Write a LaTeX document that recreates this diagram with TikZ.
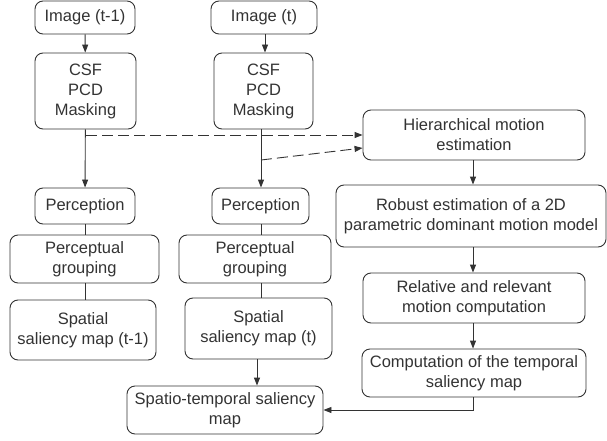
\documentclass[tikz,border=0pt]{standalone}
\usepackage{fontspec}
\setmainfont{Liberation Sans}
\usetikzlibrary{arrows.meta,calc}
\definecolor{ln}{HTML}{333333}
\tikzset{
  x=1pt, y=-1pt,
  box/.style={draw=ln, line width=0.9pt, rounded corners=8pt, align=center, inner sep=0pt,
    text=ln, font=\fontsize{16.5}{20}\selectfont},
  arr/.style={draw=ln, line width=0.9pt, -{Triangle[length=8pt,width=6pt]}},
  plain/.style={draw=ln, line width=0.9pt},
  dsh/.style={arr, dash pattern=on 11pt off 5pt},
}
\begin{document}
\begin{tikzpicture}
\useasboundingbox (0,0) rectangle (607,441);
\node[box, minimum width=100pt, minimum height=33pt] (img1) at (85,17.5) {Image (t-1)};
\node[box, minimum width=106pt, minimum height=33pt] (img2) at (264,17.5) {Image (t)};
\node[box, minimum width=101pt, minimum height=76pt] (csf1) at (85.5,91) {CSF\\PCD\\Masking};
\node[box, minimum width=99pt, minimum height=76pt] (csf2) at (263.5,91) {CSF\\PCD\\Masking};
\node[box, minimum width=100pt, minimum height=36pt] (per1) at (85,206) {Perception};
\node[box, minimum width=97pt, minimum height=36pt] (per2) at (260.5,206) {Perception};
\node[box, minimum width=149pt, minimum height=48pt] (grp1) at (84.5,259) {Perceptual\\grouping};
\node[box, minimum width=152pt, minimum height=48pt] (grp2) at (255,259) {Perceptual\\grouping};
\node[box, minimum width=146pt, minimum height=60pt] (sal1) at (83,330) {Spatial\\saliency map (t-1)};
\node[box, minimum width=147pt, minimum height=61pt] (sal2) at (258.5,328.5) {Spatial\\saliency map (t)};
\node[box, minimum width=196pt, minimum height=48pt] (st) at (225,410) {Spatio-temporal saliency\\map};
\node[box, minimum width=222pt, minimum height=50pt] (hier) at (474,135) {Hierarchical motion\\estimation};
\node[box, minimum width=270pt, minimum height=62pt] (rob) at (471,216) {Robust estimation of a 2D\\parametric dominant motion model};
\node[box, minimum width=222pt, minimum height=50pt] (rel) at (474,298) {Relative and relevant\\motion computation};
\node[box, minimum width=224pt, minimum height=48pt] (comp) at (474,373) {Computation of the temporal\\saliency map};

\draw[arr] (img1) -- (csf1);
\draw[arr] (img2.south -| 265,0) -- (csf2.north -| 265,0);
\draw[arr] (csf1) -- (per1);
\draw[arr] (csf2.south -| 261,0) -- (per2.north -| 261,0);
\draw[plain] (per1) -- (grp1.north -| per1.south);
\draw[plain] (grp1.south -| per1.south) -- (sal1.north -| per1.south);
\draw[plain] (per2.south -| 261,0) -- (grp2.north -| 261,0);
\draw[plain] (grp2.south -| 261,0) -- (sal2.north -| 261,0);
\draw[arr] (sal2.south -| 257,0) -- (st.north -| 257,0);

\coordinate (d1) at (86,135);
\coordinate (d2) at (261,160);
\coordinate (h2) at ($(hier.west)+(0,13)$);
\draw[dsh] (d1) -- (hier.west);
\draw[dsh] (d2) -- (h2);

\draw[arr] (hier.south -| 473,0) -- (rob.north -| 473,0);
\draw[arr] (rob.south -| 473,0) -- (rel.north -| 473,0);
\draw[arr] (rel.south -| 473,0) -- (comp.north -| 473,0);
\draw[arr] (comp.south -| 473,0) |- (st.east);
\end{tikzpicture}
\end{document}
